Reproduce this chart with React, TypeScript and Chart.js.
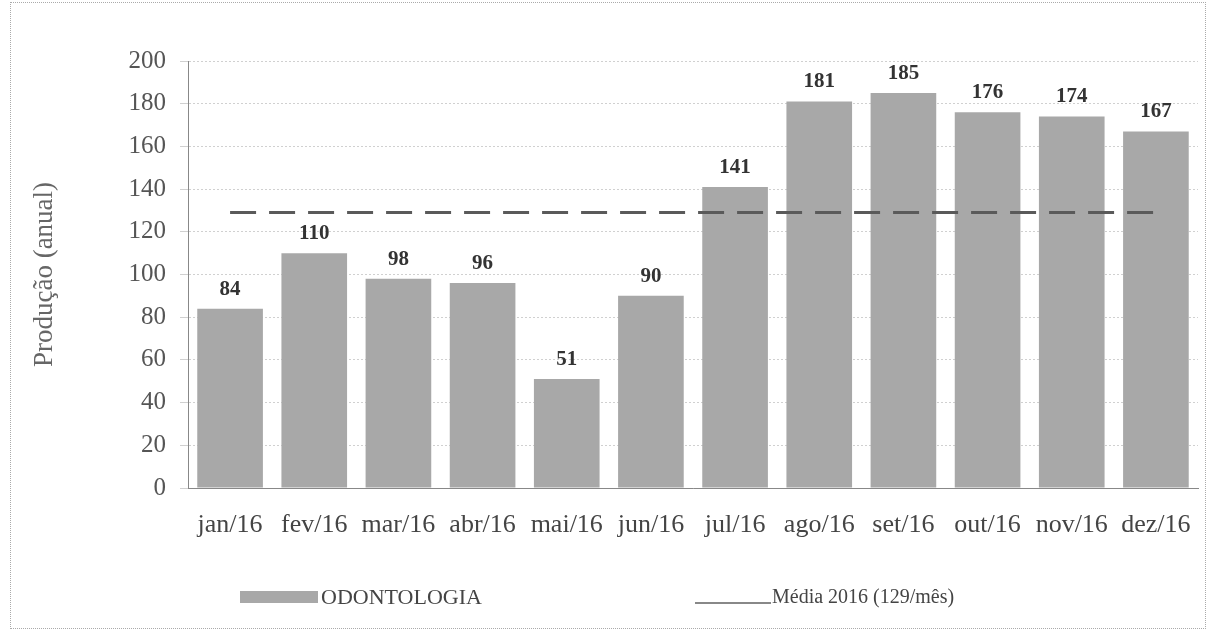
import React, { useEffect, useRef } from "react";
import { Chart, registerables } from "chart.js";

Chart.register(...registerables);

const categories = ["jan/16", "fev/16", "mar/16", "abr/16", "mai/16", "jun/16", "jul/16", "ago/16", "set/16", "out/16", "nov/16", "dez/16"];
const production = [84, 110, 98, 96, 51, 90, 141, 181, 185, 176, 174, 167];
const meanValue = 129;
const meanSeries = categories.map(() => meanValue);
const yTicks = [0, 20, 40, 60, 80, 100, 120, 140, 160, 180, 200];

const FONT = "'Liberation Serif', 'DejaVu Serif', serif";

const labelPlugin = {
  id: "barLabels",
  afterDatasetsDraw(chart: any) {
    const ctx = chart.ctx;
    const meta = chart.getDatasetMeta(1);
    ctx.save();
    ctx.font = `bold 21px ${FONT}`;
    ctx.fillStyle = "#333";
    ctx.textAlign = "center";
    ctx.textBaseline = "bottom";
    meta.data.forEach((el: any, i: number) => {
      ctx.fillText(String(production[i]), el.x, el.y - 9);
    });
    ctx.restore();
  },
};

export default function App() {
  const ref = useRef<HTMLCanvasElement | null>(null);
  useEffect(() => {
    if (!ref.current) return;
    const chart = new Chart(ref.current, {
      type: "bar",
      data: {
        labels: categories,
        datasets: [
          {
            type: "line",
            label: "Média 2016 (129/mês)",
            data: meanSeries,
            borderColor: "#5a5a5a",
            borderWidth: 3,
            borderDash: [26, 13],
            pointRadius: 0,
            fill: false,
            order: 0,
          } as any,
          {
            type: "bar",
            label: "ODONTOLOGIA",
            data: production,
            backgroundColor: "#a8a8a8",
            borderWidth: 0,
            categoryPercentage: 0.78,
            barPercentage: 1,
            order: 1,
          },
        ],
      },
      options: {
        animation: false,
        responsive: false,
        maintainAspectRatio: false,
        layout: { padding: { top: 61, right: 10, left: 0, bottom: 0 } },
        plugins: {
          legend: { display: false },
          tooltip: { enabled: false },
        },
        scales: {
          x: {
            grid: { display: false, drawTicks: true, tickLength: 8 },
            border: { color: "#888", dash: [2, 2] },
            ticks: { color: "#444", font: { family: FONT, size: 26 }, padding: 14, maxRotation: 0, autoSkip: false },
            afterFit: (s: any) => { s.height = 144; },
          },
          y: {
            min: 0,
            max: 200,
            afterBuildTicks: (s: any) => { s.ticks = yTicks.map((v) => ({ value: v })); },
            grid: { color: "#d0d0d0", tickLength: 8, lineWidth: 1 },
            border: { color: "#888", dash: [2, 2] },
            ticks: { color: "#555", font: { family: FONT, size: 25 }, padding: 14 },
            title: { display: true, text: "Produção (anual)", color: "#666", font: { family: FONT, size: 27 }, padding: { top: 29, bottom: 20 } },
            afterFit: (s: any) => { s.width = 188; },
          },
        },
      },
      plugins: [labelPlugin],
    });
    return () => chart.destroy();
  }, []);

  return (
    <div style={{ position: "fixed", left: 0, top: 0, width: 1208, height: 632, background: "#fff", fontFamily: FONT }}>
      <div style={{ position: "absolute", left: 10, top: 2, width: 1194, height: 625, border: "1px dotted #aaa" }} />
      <canvas ref={ref} width={1208} height={632} style={{ position: "absolute", left: 0, top: 0 }} />
      <div style={{ position: "absolute", left: 240, top: 584, display: "flex", alignItems: "center", fontSize: 22, color: "#444" }}>
        <span style={{ display: "inline-block", width: 78, height: 12, background: "#a8a8a8", marginRight: 3 }} />
        <span>ODONTOLOGIA</span>
      </div>
      <div style={{ position: "absolute", left: 695, top: 585, display: "flex", alignItems: "flex-end", fontSize: 20, color: "#444" }}>
        <span style={{ display: "inline-block", width: 76, height: 0, borderTop: "2px solid #888", marginRight: 1, marginBottom: 4 }} />
        <span>Média 2016 (129/mês)</span>
      </div>
    </div>
  );
}
